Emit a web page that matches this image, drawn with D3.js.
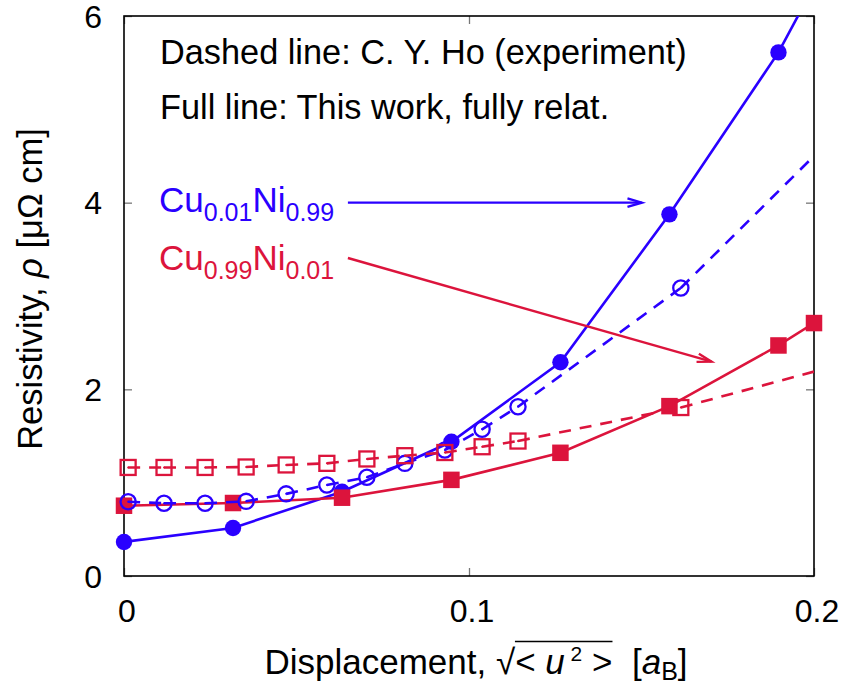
<!DOCTYPE html>
<html>
<head>
<meta charset="utf-8">
<script src="https://cdn.jsdelivr.net/npm/d3@7"></script>
<style>
  html, body { margin: 0; padding: 0; background: #fff; }
  svg { display: block; }
  text { font-family: "Liberation Sans", Arial, Helvetica, sans-serif; white-space: pre; }
</style>
</head>
<body>
<svg id="chart" width="847" height="684"></svg>
<script>
// Root-mean-square displacement of the calculations, in Bohr radii
const xCalc = [0, 0.0316, 0.0632, 0.0949, 0.1265, 0.1581, 0.1897, 0.2];
// Calculated resistivity (fully relativistic), micro-ohm cm
const rhoNiCalc = [0.365, 0.515, 0.903, 1.438, 2.29, 3.875, 5.61, 6.32];
const rhoCuCalc = [0.753, 0.782, 0.839, 1.03, 1.32, 1.82, 2.47, 2.71];

// Experimental resistivity (C. Y. Ho), mapped onto displacement
const xExp = [0.0012, 0.0116, 0.0235, 0.0354, 0.0470, 0.0588, 0.0704, 0.0814, 0.0930, 0.1038, 0.1142, 0.1614];
const rhoNiExp = [0.796, 0.779, 0.779, 0.80, 0.88, 0.975, 1.058, 1.207, 1.35, 1.572, 1.814, 3.086];
const rhoCuExp = [1.163, 1.163, 1.163, 1.168, 1.19, 1.207, 1.254, 1.289, 1.323, 1.385, 1.446, 1.805];
// End of the experimental curves at the right border
const xExpEnd = 0.2;
const rhoNiExpEnd = 4.5;
const rhoCuExpEnd = 2.19;

// Axis ticks
const xTicks = [0, 0.1, 0.2];
const xTickLabels = ["0", "0.1", "0.2"];
const yTicks = [0, 2, 4, 6];
const yTickLabels = ["0", "2", "4", "6"];

const BLUE = "#2a00ff";
const RED = "#dc143c";
const FONT = 34.3;

const svg = d3.select("#chart");
svg.append("rect").attr("width", 847).attr("height", 684).attr("fill", "#fff");

const plot = { left: 124, top: 16, right: 814, bottom: 576 };
const x = d3.scaleLinear().domain([0, 0.2]).range([plot.left, plot.right]);
const y = d3.scaleLinear().domain([0, 6]).range([plot.bottom, plot.top]);

svg.append("defs").append("clipPath").attr("id", "plotClip")
  .append("rect")
  .attr("x", plot.left).attr("y", plot.top)
  .attr("width", plot.right - plot.left).attr("height", plot.bottom - plot.top);

// ---- axes: ticks point inward, mirrored on top and right ----
const tickLen = 8;
const axB = d3.axisBottom(x).tickValues(xTicks).tickSize(-tickLen).tickFormat("");
const axT = d3.axisTop(x).tickValues(xTicks).tickSize(-tickLen).tickFormat("");
const axL = d3.axisLeft(y).tickValues(yTicks).tickSize(-tickLen).tickFormat("");
const axR = d3.axisRight(y).tickValues(yTicks).tickSize(-tickLen).tickFormat("");
[[axB, `translate(0,${plot.bottom})`], [axT, `translate(0,${plot.top})`],
 [axL, `translate(${plot.left},0)`], [axR, `translate(${plot.right},0)`]].forEach(([ax, tr]) => {
  const g = svg.append("g").attr("transform", tr).call(ax);
  g.select(".domain").remove();
  g.selectAll(".tick line").attr("stroke", "#777").attr("stroke-width", 1.3);
});

// tick labels
svg.append("g").selectAll("text").data(yTicks).join("text")
  .attr("x", plot.left - 22).attr("y", d => y(d)).attr("dy", "0.36em")
  .attr("text-anchor", "end").attr("font-size", 32).attr("fill", "#000")
  .text((d, i) => yTickLabels[i]);
svg.append("g").selectAll("text").data(xTicks).join("text")
  .attr("x", d => x(d) + 3).attr("y", 622)
  .attr("text-anchor", "middle").attr("font-size", 32).attr("fill", "#000")
  .text((d, i) => xTickLabels[i]);

// ---- border ----
svg.append("rect")
  .attr("x", plot.left).attr("y", plot.top)
  .attr("width", plot.right - plot.left).attr("height", plot.bottom - plot.top)
  .attr("fill", "none").attr("stroke", "#000").attr("stroke-width", 1.6);

// ---- series ----
const lineGen = d3.line().x(d => x(d[0])).y(d => y(d[1]));
const series = svg.append("g");
const R_DOT = 8.2, SQ = 16.5;

function solidSeries(xs, ys, color) {
  const pts = xs.map((v, i) => [v, ys[i]]);
  series.append("path").attr("d", lineGen(pts))
    .attr("fill", "none").attr("stroke", color).attr("stroke-width", 2.6)
    .attr("clip-path", "url(#plotClip)");
  return pts.filter(p => p[1] <= 6);
}

// dashed line; the dash pattern restarts at each data point
function dashedSeries(xs, ys, xEnd, yEnd, color) {
  const pts = xs.map((v, i) => [v, ys[i]]).concat([[xEnd, yEnd]]);
  d3.pairs(pts).forEach(([a, b]) => {
    series.append("path").attr("d", lineGen([a, b]))
      .attr("fill", "none").attr("stroke", color).attr("stroke-width", 2.6)
      .attr("stroke-dasharray", "12,9").attr("clip-path", "url(#plotClip)");
  });
  return xs.map((v, i) => [v, ys[i]]);
}

// This work: Cu0.01Ni0.99 (filled circles)
const niCalcPts = solidSeries(xCalc, rhoNiCalc, BLUE);
series.append("g").selectAll("circle").data(niCalcPts).join("circle")
  .attr("cx", d => x(d[0])).attr("cy", d => y(d[1])).attr("r", R_DOT).attr("fill", BLUE);

// This work: Cu0.99Ni0.01 (filled squares)
const cuCalcPts = solidSeries(xCalc, rhoCuCalc, RED);
series.append("g").selectAll("rect").data(cuCalcPts).join("rect")
  .attr("x", d => x(d[0]) - SQ / 2).attr("y", d => y(d[1]) - SQ / 2)
  .attr("width", SQ).attr("height", SQ).attr("fill", RED);

// Experiment: Cu0.01Ni0.99 (open circles)
const niExpPts = dashedSeries(xExp, rhoNiExp, xExpEnd, rhoNiExpEnd, BLUE);
const gNiExp = series.append("g");
gNiExp.selectAll("circle.m").data(niExpPts).join("circle").attr("class", "m")
  .attr("cx", d => x(d[0])).attr("cy", d => y(d[1])).attr("r", R_DOT - 0.6)
  .attr("fill", "none").attr("stroke", BLUE).attr("stroke-width", 2.3);
gNiExp.selectAll("circle.c").data(niExpPts).join("circle").attr("class", "c")
  .attr("cx", d => x(d[0])).attr("cy", d => y(d[1])).attr("r", 1).attr("fill", BLUE);

// Experiment: Cu0.99Ni0.01 (open squares)
const cuExpPts = dashedSeries(xExp, rhoCuExp, xExpEnd, rhoCuExpEnd, RED);
const gCuExp = series.append("g");
gCuExp.selectAll("rect").data(cuExpPts).join("rect")
  .attr("x", d => x(d[0]) - (SQ - 1.5) / 2).attr("y", d => y(d[1]) - (SQ - 1.5) / 2)
  .attr("width", SQ - 1.5).attr("height", SQ - 1.5)
  .attr("fill", "none").attr("stroke", RED).attr("stroke-width", 2.3);
gCuExp.selectAll("circle").data(cuExpPts).join("circle")
  .attr("cx", d => x(d[0])).attr("cy", d => y(d[1])).attr("r", 1).attr("fill", RED);

// ---- rich text helper: parts = [{t, sub, sup, italic, size, shift}] ----
function richText(parent, px, py, parts, opts) {
  const fs = opts.size;
  const t = parent.append("text").attr("x", px).attr("y", py)
    .attr("font-size", fs).attr("fill", opts.color || "#000");
  let shift = 0;
  const spans = parts.map(p => {
    const target = p.shift !== undefined ? p.shift : p.sub ? fs * 0.26 : p.sup ? -fs * 0.38 : 0;
    const s = t.append("tspan").text(p.t).attr("dy", target - shift);
    shift = target;
    if (p.sub || p.sup) s.attr("font-size", p.size || fs * 0.68);
    if (p.italic) s.attr("font-style", "italic");
    return s;
  });
  if (opts.anchor === "middle") {
    const w = t.node().getComputedTextLength();
    t.attr("x", px - w / 2);
  }
  return { text: t, spans };
}

// ---- annotations ----
const notes = svg.append("g");
richText(notes, 160, 64, [{ t: "Dashed line: C. Y. Ho (experiment)" }], { size: FONT });
richText(notes, 160, 119, [{ t: "Full line: This work, fully relat." }], { size: FONT });

richText(notes, 159, 212, [
  { t: "Cu" }, { t: "0.01", sub: true, size: 25 }, { t: "Ni" }, { t: "0.99", sub: true, size: 25 }
], { size: 35, color: BLUE });
richText(notes, 159, 270, [
  { t: "Cu" }, { t: "0.99", sub: true, size: 25 }, { t: "Ni" }, { t: "0.01", sub: true, size: 25 }
], { size: 35, color: RED });

// arrows from the labels to the curves (data coordinates)
const arrows = [
  { from: [0.0649, 4.0], to: [0.1501, 4.0], color: BLUE },
  { from: [0.0649, 3.407], to: [0.1703, 2.296], color: RED }
];
arrows.forEach(a => {
  const x0 = x(a.from[0]), y0 = y(a.from[1]), x1 = x(a.to[0]), y1 = y(a.to[1]);
  const ang = Math.atan2(y1 - y0, x1 - x0);
  const hl = 15, ha = 0.29;
  const g = notes.append("g").attr("stroke", a.color).attr("stroke-width", 2.4).attr("fill", "none");
  g.append("line").attr("x1", x0).attr("y1", y0).attr("x2", x1).attr("y2", y1);
  g.append("path").attr("d",
    `M${x1 - hl * Math.cos(ang - ha)},${y1 - hl * Math.sin(ang - ha)}` +
    `L${x1},${y1}` +
    `L${x1 - hl * Math.cos(ang + ha)},${y1 - hl * Math.sin(ang + ha)}`);
});

// ---- axis titles ----
const yTitle = svg.append("text")
  .attr("transform", "translate(42,289) rotate(-90)")
  .attr("text-anchor", "middle").attr("font-size", 34.5).attr("fill", "#000");
yTitle.append("tspan").text("Resistivity, ");
yTitle.append("tspan").text("ρ").attr("font-style", "italic");
yTitle.append("tspan").text(" [μΩ cm]");

const X_FS = 35;
const X_BASE = 674;
const xTitle = richText(svg, 476, X_BASE, [
  { t: "Displacement, " },
  { t: "√" },
  { t: "< " },
  { t: "u", italic: true },
  { t: " 2", sup: true, size: 21, shift: -13 },
  { t: " >" },
  { t: "\u00a0\u00a0[" },
  { t: "a", italic: true },
  { t: "B", sub: true, size: 25, shift: 6 },
  { t: "]" }
], { size: X_FS, anchor: "middle" });
// vinculum of the square root, over "< u² >"
{
  const rootBox = xTitle.spans[1].node().getBBox();
  const endBox = xTitle.spans[5].node().getBBox();
  const yBar = X_BASE - X_FS * 0.93;
  svg.append("line")
    .attr("x1", rootBox.x + rootBox.width - 1).attr("x2", endBox.x + endBox.width)
    .attr("y1", yBar).attr("y2", yBar)
    .attr("stroke", "#000").attr("stroke-width", 1.6);
}
</script>
</body>
</html>
